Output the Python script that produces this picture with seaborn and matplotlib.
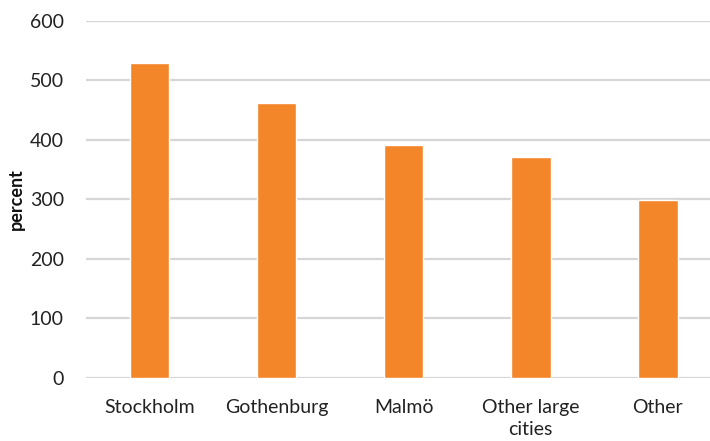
import pandas as pd
import seaborn as sns
import matplotlib
matplotlib.use('Agg')
import matplotlib.pyplot as plt

# values
regions = ['Stockholm', 'Gothenburg', 'Malmö', 'Other large\ncities', 'Other']
percent = [529, 461, 391, 371, 299]
yticks = [0, 100, 200, 300, 400, 500, 600]

df = pd.DataFrame({'region': regions, 'percent': percent})

sns.set_style('white')
plt.rcParams['font.family'] = ['Lato', 'DejaVu Sans']

fig = plt.figure(figsize=(7.10, 4.41), dpi=100)
ax = fig.add_axes([86 / 710, 63 / 441, 624 / 710, 357.3 / 441])

sns.barplot(data=df, x='region', y='percent', color='#F4862A', saturation=1,
            width=0.31, ax=ax, zorder=3)

ax.set_ylim(0, 600)
ax.set_xlim(-0.5, 4.41)
ax.set_yticks(yticks)
ax.yaxis.grid(True, color='#d6d6d6', lw=1.6, zorder=0)
ax.xaxis.grid(False)
for s in ax.spines.values():
    s.set_visible(False)
ax.tick_params(axis='both', length=0, labelsize=14, colors='#222222')
ax.tick_params(axis='y', pad=16)
ax.tick_params(axis='x', pad=15)
for lbl in ax.get_xticklabels():
    lbl.set_linespacing(1.35)
ax.set_xlabel('')
ax.set_ylabel('percent', fontsize=13, fontweight='bold', color='#111111')
ax.yaxis.set_label_coords(-0.098, 0.5)

plt.savefig('out.png', dpi=100)
